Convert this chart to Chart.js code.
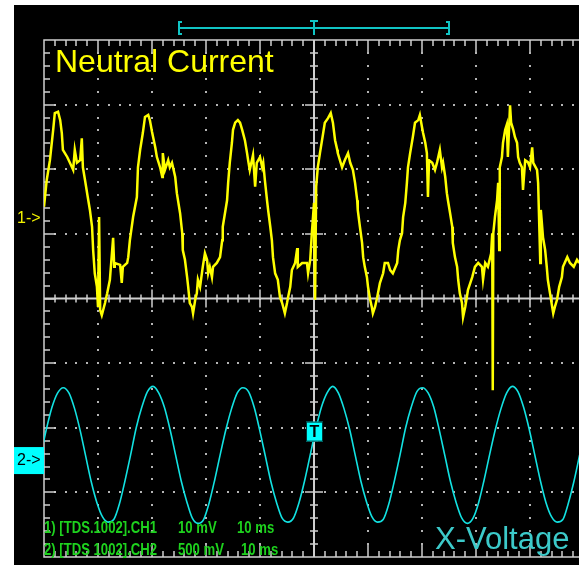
<!DOCTYPE html>
<html>
<head>
<meta charset="utf-8">
<script src="https://cdn.jsdelivr.net/npm/chart.js@4/dist/chart.umd.min.js"></script>
<style>
  html, body { margin: 0; padding: 0; background: #fff; overflow: hidden; }
  canvas { display: block; }
</style>
</head>
<body>
<canvas id="scope" width="579" height="565"></canvas>
<script>
// Channel 1: neutral current probe, 10 mV/div, time in ms relative to trigger
const neutralTimeMs = [
  -50.0, -49.5, -48.9, -48.3, -48.0, -47.4, -47.0, -46.7, -46.5, -45.7,
  -45.2, -44.6, -44.3, -43.9, -43.3, -43.0, -42.8, -42.4, -41.9, -41.5,
  -41.1, -40.9, -40.6, -40.2, -40.0, -39.8, -39.6, -39.3, -38.7, -38.3,
  -37.8, -37.2, -37.0, -36.9, -35.9, -35.6, -35.4, -34.6, -34.4, -34.1,
  -33.5, -32.8, -32.6, -32.2, -31.7, -31.3, -30.7, -30.4, -30.0, -29.8,
  -29.4, -29.1, -28.5, -28.1, -28.0, -27.6, -27.0, -26.7, -26.3, -25.7,
  -25.4, -24.8, -24.4, -24.3, -23.9, -23.5, -23.3, -23.0, -22.6, -22.4,
  -22.0, -21.7, -21.5, -21.1, -20.6, -20.2, -19.8, -19.6, -19.3, -18.9,
  -18.7, -18.0, -17.4, -17.0, -16.9, -16.1, -15.9, -15.6, -15.2, -15.0,
  -14.6, -14.1, -13.7, -13.3, -12.8, -12.4, -12.2, -11.9, -11.3, -10.9,
  -10.6, -10.0, -9.6, -9.4, -9.1, -8.7, -8.5, -8.1, -7.8, -7.6,
  -7.2, -6.7, -6.3, -5.9, -5.4, -5.0, -4.8, -4.4, -4.1, -3.5,
  -3.1, -3.0, -2.2, -1.3, -1.1, -0.7, -0.4, 0.0, 0.2, 0.4,
  0.7, 1.1, 1.7, 2.0, 2.6, 3.1, 3.5, 3.9, 4.3, 4.4,
  5.2, 5.7, 6.3, 6.7, 7.2, 7.6, 8.0, 8.1, 8.5, 8.9,
  9.1, 9.4, 9.8, 10.0, 10.4, 10.7, 10.9, 11.3, 11.7, 12.2,
  12.8, 13.1, 13.7, 14.1, 14.6, 15.4, 15.6, 15.9, 16.3, 16.5,
  16.9, 17.2, 17.4, 17.8, 18.3, 18.7, 19.3, 19.6, 20.0, 20.2,
  20.6, 20.9, 21.1, 21.3, 21.9, 22.4, 22.8, 23.3, 23.7, 23.9,
  24.3, 24.6, 24.8, 25.2, 25.6, 25.7, 26.1, 26.5, 26.7, 27.0,
  27.4, 27.6, 28.0, 28.3, 28.5, 29.3, 29.8, 30.4, 31.1, 31.3,
  31.7, 32.2, 32.8, 33.0, 33.1, 33.2, 33.5, 33.9, 34.1, 34.3,
  34.4, 34.8, 35.0, 35.4, 35.7, 35.9, 36.3, 36.5, 36.9, 37.2,
  37.6, 37.8, 38.1, 38.5, 38.7, 39.1, 39.6, 40.0, 40.4, 40.6,
  41.3, 41.5, 41.9, 42.0, 42.4, 42.8, 43.1, 43.3, 43.7, 44.1,
  44.3, 44.6, 45.0, 45.4, 45.9, 46.1, 46.9, 47.4, 48.1, 48.7,
  49.1
];
const neutralCurrentMv = [
  1.9, 6.0, 9.1, 13.8, 16.4, 16.6, 15.3, 13.3, 10.7, 9.6,
  8.7, 7.6, 10.7, 8.7, 9.1, 12.5, 8.0, 6.0, 3.4, 1.4,
  -1.2, -4.8, -8.4, -10.5, -13.6, 0.3, -14.1, -14.9, -13.0, -11.5,
  -9.4, -2.9, -7.4, -6.8, -7.1, -9.9, -7.4, -6.8, -5.9, -3.3,
  0.3, 3.4, 8.0, 10.7, 13.3, 15.8, 16.1, 15.3, 13.5, 12.7,
  11.1, 9.6, 8.0, 6.5, 10.2, 7.6, 9.1, 8.0, 8.7, 6.5,
  4.0, 0.9, -2.2, -4.8, -6.3, -9.0, -10.5, -13.0, -13.6, -14.6,
  -12.5, -11.5, -9.4, -10.5, -7.4, -5.3, -6.3, -8.4, -7.4, -9.0,
  -7.4, -6.8, -5.9, -3.3, -1.2, 2.9, 5.6, 8.7, 11.8, 13.8,
  14.9, 15.3, 14.9, 13.8, 12.2, 10.2, 9.1, 7.6, 9.9, 5.0,
  8.7, 9.6, 8.0, 8.7, 6.0, 2.9, 1.4, -1.2, -3.3, -5.9,
  -8.4, -9.4, -12.1, -13.0, -14.6, -13.0, -12.1, -10.5, -7.9, -6.8,
  -4.5, -7.4, -6.8, -6.8, -8.4, -6.3, -2.2, 2.5, -12.5, 5.0,
  8.0, 10.2, 13.3, 14.9, 15.6, 16.4, 14.9, 12.2, 10.7, 10.2,
  8.0, 9.1, 10.2, 8.7, 7.6, 5.6, 2.9, 1.4, -1.2, -3.7,
  -5.9, -7.4, -9.0, -10.5, -12.5, -13.6, -14.6, -13.6, -12.1, -9.9,
  -8.4, -6.8, -6.8, -7.9, -8.4, -6.8, -4.8, -3.3, -2.2, 0.3,
  2.5, 5.6, 8.0, 10.2, 12.7, 14.9, 15.3, 16.1, 14.2, 13.3,
  11.8, 10.2, 3.4, 9.1, 8.7, 7.6, 8.8, 10.7, 8.0, 8.7,
  6.5, 4.0, 2.9, 0.9, -1.2, -3.7, -5.9, -7.4, -9.4, -11.5,
  -13.0, -15.2, -13.6, -12.1, -11.0, -9.0, -7.4, -6.8, -7.4, -9.4,
  -6.8, -7.4, -5.3, -2.2, -26.5, -2.2, 0.3, 2.9, 5.6, -4.8,
  8.0, 9.6, 11.8, 13.8, 14.6, 9.6, 17.6, 14.9, 13.8, 12.7,
  11.8, 9.6, 8.7, 8.0, 4.5, 9.1, 8.8, 8.0, 11.1, 8.7,
  7.6, 5.6, -6.8, 1.4, -2.8, -4.8, -7.4, -9.4, -11.5, -13.6,
  -14.6, -13.6, -12.5, -10.5, -9.0, -7.4, -5.9, -6.8, -7.4, -6.3,
  -6.8
];

// Channel 2: X-voltage, 500 mV/div
const xVoltTimeMs = [
  -50.59, -49.55, -48.51, -47.47, -46.43, -45.39, -44.35, -43.31, -42.28, -41.24,
  -40.20, -39.16, -38.12, -37.08, -36.04, -35.00, -33.96, -32.92, -31.88, -30.84,
  -29.80, -28.76, -27.72, -26.68, -25.64, -24.60, -23.57, -22.53, -21.49, -20.45,
  -19.41, -18.37, -17.33, -16.29, -15.25, -14.21, -13.17, -12.13, -11.09, -10.05,
  -9.01, -7.97, -6.93, -5.90, -4.86, -3.82, -2.78, -1.74, -0.70, 0.34,
  1.38, 2.42, 3.46, 4.50, 5.54, 6.58, 7.62, 8.66, 9.70, 10.74,
  11.77, 12.81, 13.85, 14.89, 15.93, 16.97, 18.01, 19.05, 20.09, 21.13,
  22.17, 23.21, 24.25, 25.29, 26.33, 27.37, 28.41, 29.45, 30.48, 31.52,
  32.56, 33.60, 34.64, 35.68, 36.72, 37.76, 38.80, 39.84, 40.88, 41.92,
  42.96, 44.00, 45.04, 46.08, 47.12, 48.16, 49.19, 50.23
];
const xVoltV = [
  0.04, 0.24, 0.41, 0.52, 0.56, 0.52, 0.40, 0.23, 0.03, -0.17,
  -0.33, -0.44, -0.48, -0.46, -0.34, -0.16, 0.04, 0.25, 0.41, 0.53,
  0.57, 0.52, 0.41, 0.24, 0.04, -0.16, -0.32, -0.45, -0.49, -0.46,
  -0.33, -0.15, 0.05, 0.24, 0.40, 0.52, 0.56, 0.53, 0.41, 0.23,
  0.03, -0.17, -0.33, -0.45, -0.48, -0.45, -0.33, -0.16, 0.04, 0.24,
  0.41, 0.52, 0.57, 0.52, 0.40, 0.24, 0.04, -0.16, -0.32, -0.44,
  -0.48, -0.46, -0.34, -0.16, 0.04, 0.25, 0.41, 0.53, 0.56, 0.52,
  0.41, 0.23, 0.03, -0.17, -0.33, -0.45, -0.49, -0.45, -0.33, -0.15,
  0.05, 0.24, 0.40, 0.52, 0.57, 0.53, 0.41, 0.24, 0.04, -0.16,
  -0.33, -0.44, -0.48, -0.46, -0.33, -0.16, 0.04, 0.24
];

// Screen settings
const timePerDivMs = 10;
const ch1PerDivMv = 10;
const ch2PerDivV = 0.5;
const ch1Top = 27.7;         // mV at top of graticule
const ch2Top = 3.25;         // V at top of graticule
const triggerLevelV = 0.22;
const readoutLines = [
  ['1) [TDS.1002].CH1', '10 mV', '10 ms'],
  ['2) [TDS 1002].CH2', '500 mV', '10 ms']
];

const GRID = '#cfcfcf';
const DOT = '#b4b4b4';
const CYAN = '#12e2e2';

const toPoints = (xs, ys) => xs.map((x, i) => ({ x, y: ys[i] }));

const scopeScreen = {
  id: 'scopeScreen',
  beforeDraw(chart) {
    const { ctx, width, height } = chart;
    ctx.save();
    ctx.fillStyle = '#ffffff';
    ctx.fillRect(0, 0, width, height);
    ctx.fillStyle = '#000000';
    ctx.fillRect(14, 5, width - 14, height - 5);
    ctx.restore();
  },
  beforeDatasetsDraw(chart) {
    const { ctx, chartArea: a, scales } = chart;
    const x = scales.x;
    const left = a.left, top = a.top, bottom = a.bottom, right = a.right;
    const divW = x.getPixelForValue(x.min + timePerDivMs) - x.getPixelForValue(x.min);
    const divH = (bottom - top) / 8;
    const xc = x.getPixelForValue(0);
    const yc = top + 4 * divH;
    ctx.save();

    // dotted division lines
    ctx.fillStyle = DOT;
    for (let k = 1; k < 10; k++) {
      if (k === 5) continue;
      const px = left + k * divW;
      if (px > right) break;
      for (let j = 1; j < 40; j++) {
        ctx.fillRect(Math.round(px) - 1, Math.round(top + j * divH / 5) - 1, 2, 2);
      }
    }
    for (let i = 1; i < 8; i++) {
      if (i === 4) continue;
      const py = top + i * divH;
      for (let m = 1; left + m * divW / 5 <= right; m++) {
        ctx.fillRect(Math.round(left + m * divW / 5) - 1, Math.round(py) - 1, 2, 2);
      }
    }

    ctx.strokeStyle = GRID;
    // border
    ctx.lineWidth = 1.5;
    ctx.beginPath();
    ctx.moveTo(right, top); ctx.lineTo(left, top); ctx.lineTo(left, bottom); ctx.lineTo(right, bottom);
    ctx.stroke();
    // centre cross
    ctx.lineWidth = 2;
    ctx.beginPath();
    ctx.moveTo(left, yc); ctx.lineTo(right, yc);
    ctx.moveTo(xc, top); ctx.lineTo(xc, bottom);
    ctx.stroke();

    // tick marks
    ctx.lineWidth = 1.5;
    ctx.beginPath();
    for (let m = 1; left + m * divW / 5 <= right + 1; m++) {
      const px = Math.round(left + m * divW / 5);
      const major = m % 5 === 0;
      const len = major ? 12 : 6;
      ctx.moveTo(px, top); ctx.lineTo(px, top + len);
      ctx.moveTo(px, bottom); ctx.lineTo(px, bottom - len);
      const c = major ? 9 : 4;
      ctx.moveTo(px, yc - c); ctx.lineTo(px, yc + c);
    }
    for (let j = 1; j < 40; j++) {
      const py = Math.round(top + j * divH / 5);
      const major = j % 5 === 0;
      const len = major ? 12 : 6;
      ctx.moveTo(left, py); ctx.lineTo(left + len, py);
      const c = major ? 9 : 4;
      ctx.moveTo(xc - c, py); ctx.lineTo(xc + c, py);
    }
    ctx.stroke();

    // record position bracket above the screen
    const bl = 179, br = 449, by = 28;
    ctx.strokeStyle = '#10c4c4';
    ctx.lineWidth = 2;
    ctx.beginPath();
    ctx.moveTo(bl + 3, by - 6); ctx.lineTo(bl, by - 6); ctx.lineTo(bl, by + 6); ctx.lineTo(bl + 3, by + 6);
    ctx.moveTo(br - 3, by - 6); ctx.lineTo(br, by - 6); ctx.lineTo(br, by + 6); ctx.lineTo(br - 3, by + 6);
    ctx.moveTo(bl, by); ctx.lineTo(br, by);
    ctx.moveTo(xc - 4, by - 7); ctx.lineTo(xc + 4, by - 7);
    ctx.moveTo(xc, by - 7); ctx.lineTo(xc, by + 7);
    ctx.stroke();
    ctx.restore();
  },
  afterDraw(chart) {
    const { ctx, scales } = chart;
    const x = scales.x;
    ctx.save();

    // channel ground markers
    const y1 = scales.ch1.getPixelForValue(0);
    ctx.fillStyle = '#f2f200';
    ctx.font = '16px "Liberation Sans", Arial, sans-serif';
    ctx.textBaseline = 'middle';
    ctx.fillText('1->', 17, y1);

    const y2 = scales.ch2.getPixelForValue(0);
    ctx.fillStyle = '#00ffff';
    ctx.fillRect(14, y2 - 13, 30, 27);
    ctx.fillStyle = '#000000';
    ctx.fillText('2->', 17, y2 + 1);

    // trigger level marker
    const tx = x.getPixelForValue(0);
    const ty = scales.ch2.getPixelForValue(triggerLevelV);
    ctx.fillStyle = '#00ffff';
    ctx.fillRect(tx - 8, ty - 10, 17, 20);
    ctx.strokeStyle = '#003c3c';
    ctx.lineWidth = 1;
    ctx.strokeRect(tx - 7.5, ty - 9.5, 16, 19);
    ctx.fillStyle = '#000000';
    ctx.font = 'bold 16px "Liberation Sans", Arial, sans-serif';
    ctx.textAlign = 'center';
    ctx.fillText('T', tx + 0.5, ty + 1);
    ctx.textAlign = 'left';

    // titles
    ctx.textBaseline = 'alphabetic';
    ctx.font = '32px "Liberation Sans", Arial, sans-serif';
    ctx.fillStyle = '#ffff00';
    ctx.fillText('Neutral Current', 55, 72);
    ctx.font = '31px "Liberation Sans", Arial, sans-serif';
    ctx.fillStyle = '#3ccaca';
    ctx.fillText('X-Voltage', 435, 549);

    // readout, in a narrow face
    ctx.font = 'bold 16px "Liberation Sans", Arial, sans-serif';
    ctx.fillStyle = '#1ed21e';
    const squeeze = 113 / ctx.measureText(readoutLines[0][0]).width;
    const cols = [[44, 178, 237], [44, 178, 241]];
    const bases = [533, 555];
    readoutLines.forEach((line, i) => {
      line.forEach((s, j) => {
        ctx.save();
        ctx.translate(cols[i][j], bases[i]);
        ctx.scale(squeeze, 1);
        ctx.fillText(s, 0, 0);
        ctx.restore();
      });
    });
    ctx.restore();
  }
};

new Chart(document.getElementById('scope'), {
  type: 'line',
  data: {
    datasets: [
      {
        label: 'CH1 Neutral Current',
        data: toPoints(neutralTimeMs, neutralCurrentMv),
        yAxisID: 'ch1',
        borderColor: '#ffff00',
        borderWidth: 2.5,
        pointRadius: 0,
        tension: 0
      },
      {
        label: 'CH2 X-Voltage',
        data: toPoints(xVoltTimeMs, xVoltV),
        yAxisID: 'ch2',
        borderColor: CYAN,
        borderWidth: 1.6,
        pointRadius: 0,
        cubicInterpolationMode: 'monotone'
      }
    ]
  },
  options: {
    responsive: false,
    devicePixelRatio: 1,
    animation: false,
    events: [],
    layout: { padding: { left: 44, top: 40, right: 0, bottom: 8 } },
    plugins: { legend: { display: false }, tooltip: { enabled: false } },
    scales: {
      x: { type: 'linear', min: -5 * timePerDivMs, max: 49.07, display: false },
      ch1: { type: 'linear', min: ch1Top - 8 * ch1PerDivMv, max: ch1Top, display: false },
      ch2: { type: 'linear', min: ch2Top - 8 * ch2PerDivV, max: ch2Top, display: false }
    }
  },
  plugins: [scopeScreen]
});
</script>
</body>
</html>
